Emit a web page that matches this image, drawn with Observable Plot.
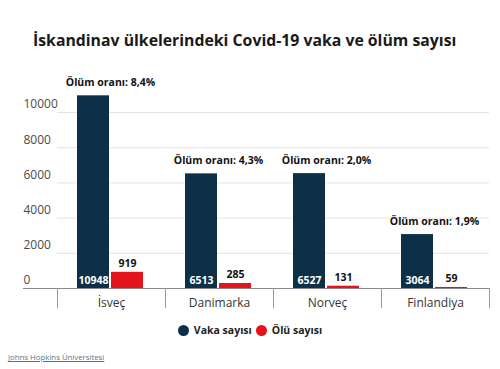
<!DOCTYPE html>
<html>
<head>
<meta charset="utf-8">
<script src="https://cdn.jsdelivr.net/npm/d3@7"></script>
<script src="https://cdn.jsdelivr.net/npm/@observablehq/plot@0.6"></script>
<style>
  html, body { margin: 0; padding: 0; background: #fff; }
  body { width: 500px; height: 369px; overflow: hidden; font-family: "Open Sans", sans-serif; }
  #title { height: 60px; box-sizing: border-box; padding-top: 28px; line-height: 24px; padding-left: 33px;
           font-size: 15.8px; font-weight: 700; color: #1a1a1a; white-space: nowrap; }
  #chart svg { display: block; }
  #legend { height: 30px; line-height: 30px; text-align: center; font-size: 10.5px; font-weight: 700; color: #222; }
  #legend span.dot { display: inline-block; width: 11px; height: 11px; border-radius: 50%; vertical-align: -2px; margin-right: 5px; }
  #legend span.item { margin: 0 2px; }
  #caption { margin-top: 5px; line-height: 14px; font-size: 7.8px; padding-left: 8px; }
  #caption a { color: #4f7a8c; text-decoration: underline; }
</style>
</head>
<body>
<div id="title">İskandinav ülkelerindeki Covid-19 vaka ve ölüm sayısı</div>
<div id="chart"></div>
<div id="legend"></div>
<div id="caption"><a>Johns Hopkins Üniversitesi</a></div>
<script>
const countries = ["İsveç", "Danimarka", "Norveç", "Finlandiya"];
const cases = [10948, 6513, 6527, 3064];
const deaths = [919, 285, 131, 59];
const rates = ["8,4%", "4,3%", "2,0%", "1,9%"];
const yTicks = [0, 2000, 4000, 6000, 8000, 10000];
const seriesNames = ["Vaka sayısı", "Ölü sayısı"];
const seriesColors = ["#0c3048", "#e3141b"];

const rows = countries.map((c, i) => ({country: c, cases: cases[i], deaths: deaths[i], rate: "Ölüm oranı: " + rates[i]}));

const plot = Plot.plot({
  width: 500,
  height: 255,
  marginTop: 52,
  marginBottom: 27,
  marginLeft: 57,
  marginRight: 11,
  style: {fontFamily: "Open Sans", fontSize: "12px", color: "#444", background: "#fff"},
  x: {domain: countries, padding: 0, label: null},
  y: {domain: [0, 10000], label: null},
  marks: [
    Plot.gridY(yTicks, {stroke: "#e4e4e4", strokeOpacity: 1}),
    Plot.axisY(yTicks, {tickSize: 0, tickPadding: 0, textAnchor: "start", dx: -34, dy: -8, fill: "#4a4a4a", label: null, tickFormat: d => String(d)}),
    Plot.barY(rows, {x: "country", y: "cases", fill: seriesColors[0], insetLeft: 20, insetRight: 56}),
    Plot.barY(rows, {x: "country", y: "deaths", fill: seriesColors[1], insetLeft: 54, insetRight: 22}),
    Plot.ruleY([0], {stroke: "#8a8a8a", strokeWidth: 1.2, insetLeft: -34}),
    Plot.axisX({tickSize: 20, stroke: "#999", tickFormat: () => "", dx: -54, label: null}),
    Plot.axisX([countries[countries.length - 1]], {tickSize: 20, stroke: "#999", tickFormat: () => "", dx: 54, label: null}),
    Plot.axisX({tickSize: 0, tickPadding: 10, fill: "#333", label: null}),
    Plot.text(rows, {x: "country", y: 0, text: d => String(d.cases), dx: -18, dy: -8, fill: "#fff", fontWeight: "bold", fontSize: 10.5}),
    Plot.text(rows, {x: "country", y: "deaths", text: d => String(d.deaths), dx: 16, dy: -9, fill: "#111", fontWeight: "bold", fontSize: 10.5}),
    Plot.text(rows, {x: "country", y: "cases", text: "rate", dx: -1, dy: -13, fill: "#111", fontWeight: "bold", fontSize: 10.5})
  ]
});
document.getElementById("chart").appendChild(plot);

document.getElementById("legend").innerHTML = seriesNames.map((n, i) =>
  `<span class="item"><span class="dot" style="background:${seriesColors[i]}"></span>${n}</span>`).join("");
</script>
</body>
</html>
